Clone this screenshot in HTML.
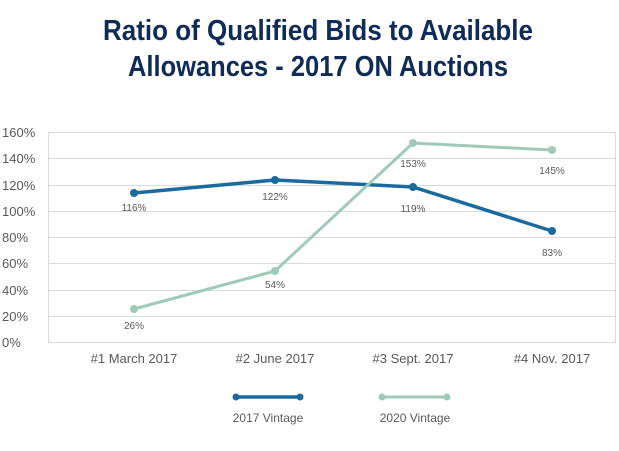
<!DOCTYPE html>
<html><head><meta charset="utf-8"><style>
html,body{margin:0;padding:0;background:#fff;}
body{width:619px;height:446px;overflow:hidden;font-family:"Liberation Sans",sans-serif;}
</style></head><body>
<svg width="619" height="446" xmlns="http://www.w3.org/2000/svg" font-family="Liberation Sans, sans-serif">
<text x="318" y="40" text-anchor="middle" font-size="29" font-weight="bold" fill="#0f2b57" textLength="430" lengthAdjust="spacingAndGlyphs">Ratio of Qualified Bids to Available</text>
<text x="318" y="76" text-anchor="middle" font-size="29" font-weight="bold" fill="#0f2b57" textLength="380" lengthAdjust="spacingAndGlyphs">Allowances - 2017 ON Auctions</text>
<g stroke="#d9d9d9" stroke-width="1">
<line x1="48" x2="616" y1="132.5" y2="132.5"/><line x1="48" x2="616" y1="158.5" y2="158.5"/>
<line x1="48" x2="616" y1="185.5" y2="185.5"/><line x1="48" x2="616" y1="211.5" y2="211.5"/>
<line x1="48" x2="616" y1="237.5" y2="237.5"/><line x1="48" x2="616" y1="263.5" y2="263.5"/>
<line x1="48" x2="616" y1="290.5" y2="290.5"/><line x1="48" x2="616" y1="316.5" y2="316.5"/>
<line x1="48" x2="616" y1="342.5" y2="342.5"/>
<line x1="48.5" x2="48.5" y1="132" y2="343"/><line x1="615.5" x2="615.5" y1="132" y2="343"/>
</g>
<g font-size="13" fill="#595959">
<text x="2" y="137">160%</text><text x="2" y="163">140%</text><text x="2" y="190">120%</text>
<text x="2" y="216">100%</text><text x="2" y="242">80%</text><text x="2" y="268">60%</text>
<text x="2" y="295">40%</text><text x="2" y="321">20%</text><text x="2" y="347">0%</text>
</g>
<g font-size="13" fill="#595959" text-anchor="middle">
<text x="134" y="363">#1 March 2017</text><text x="275" y="363">#2 June 2017</text>
<text x="413" y="363">#3 Sept. 2017</text><text x="552" y="363">#4 Nov. 2017</text>
</g>
<polyline points="134,193 275,180 413,187 552,231" fill="none" stroke="#1a6aa0" stroke-width="3.5"/>
<polyline points="134,309 275,271 413,143 552,150" fill="none" stroke="#9fcab8" stroke-width="3"/>
<g fill="#1a6aa0"><circle cx="134" cy="193" r="4"/><circle cx="275" cy="180" r="4"/><circle cx="413" cy="187" r="4"/><circle cx="552" cy="231" r="4"/></g>
<g fill="#9fcab8"><circle cx="134" cy="309" r="4"/><circle cx="275" cy="271" r="4"/><circle cx="413" cy="143" r="4"/><circle cx="552" cy="150" r="4"/></g>
<g font-size="10" fill="#595959" text-anchor="middle">
<text x="134" y="211">116%</text><text x="275" y="200">122%</text><text x="413" y="212">119%</text><text x="552" y="256">83%</text>
<text x="134" y="329">26%</text><text x="275" y="288">54%</text><text x="413" y="167">153%</text><text x="552" y="174">145%</text>
</g>
<line x1="234" x2="302" y1="397" y2="397" stroke="#1a6aa0" stroke-width="3.5"/>
<circle cx="236" cy="397" r="3.5" fill="#1a6aa0"/><circle cx="300" cy="397" r="3.5" fill="#1a6aa0"/>
<line x1="380" x2="449" y1="397" y2="397" stroke="#9fcab8" stroke-width="3"/>
<circle cx="382" cy="397" r="3.5" fill="#9fcab8"/><circle cx="447" cy="397" r="3.5" fill="#9fcab8"/>
<text x="268" y="422" font-size="12" fill="#595959" text-anchor="middle">2017 Vintage</text>
<text x="415" y="422" font-size="12" fill="#595959" text-anchor="middle">2020 Vintage</text>
</svg>
</body></html>
